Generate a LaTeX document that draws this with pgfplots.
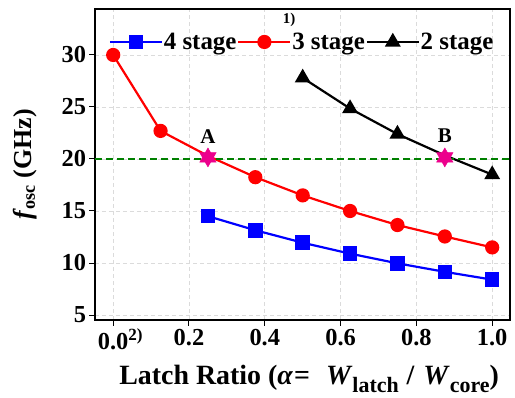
\documentclass[border=0pt]{standalone}
\usepackage{fontspec}
\setmainfont{Liberation Serif}
\usepackage{pgfplots}
\pgfplotsset{compat=1.18}
\usetikzlibrary{calc}
\definecolor{mygreen}{RGB}{0,128,0}
\newcommand{\sub}[1]{\raisebox{-0.3em}{\fontsize{22}{22}\selectfont #1}}
\begin{document}
\begin{tikzpicture}
\begin{axis}[
  name=ax,
  scale only axis,
  width=415bp, height=311bp,
  xmin=-0.048, xmax=1.047,
  ymin=4.52, ymax=34.42,
  xtick={0,0.2,0.4,0.6,0.8,1.0},
  xticklabels={0.0\rlap{\textsuperscript{2)}},0.2,0.4,0.6,0.8,1.0},
  ytick={5,10,15,20,25,30},
  yticklabels={5,10,15,20,25,30},
  xtick pos=bottom, ytick pos=left,
  tick align=outside,
  major tick length=5.5bp,
  every tick/.style={black, line width=1pt},
  axis line style={line width=2.3pt},
  grid=major,
  major grid style={dash pattern=on 4bp off 3bp, gray!28, line width=0.9pt},
  tick label style={font=\fontsize{24.5}{28}\selectfont\bfseries},
  xlabel={Latch Ratio (\textit{α}\hspace{1bp}=\hspace{16bp}\textit{W}\sub{latch}\hspace{8bp}/\hspace{9bp}\textit{W}\sub{core})},
  ylabel={\textit{f}\textsubscript{osc} (GHz)},
  label style={font=\fontsize{28}{30}\selectfont\bfseries},
  xlabel style={at={(axis description cs:0.516,-0.19)}, anchor=center},
  ylabel style={font=\fontsize{26}{30}\selectfont\bfseries, at={(axis description cs:-0.169,0.50)}, anchor=center},
  legend style={draw=none, fill=none, at={(0.4976,0.894)}, anchor=center,
    font=\fontsize{25}{28}\selectfont\bfseries, legend columns=3,
    /tikz/every even column/.append style={column sep=0bp},
    nodes={inner sep=0.8bp},
    inner sep=0pt},
  legend cell align=left,
  legend image code/.code={\draw[mark=none] (0bp,0bp) -- (52bp,0bp); \draw[only marks] plot coordinates {(26bp,0bp)};},
]
\addplot[blue, line width=2.2pt, mark=square*, mark size=6.2bp, mark options={solid}]
  coordinates {(0.25,14.5)(0.375,13.15)(0.5,11.95)(0.625,10.9)(0.75,9.97)(0.875,9.15)(1.0,8.4)};
\addlegendentry{4 stage}
\addplot[red, line width=2.2pt, mark=*, mark size=6bp, mark indices={1,2,4,5,6,7,8,9}]
  coordinates {(0,30)(0.125,22.7)(0.25,20.3)(0.375,18.25)(0.5,16.5)(0.625,15.0)(0.75,13.65)(0.875,12.55)(1.0,11.5)};
\addlegendentry{3 stage}
\addplot[black, line width=2.2pt, mark=triangle*, mark size=7bp, mark indices={1,2,3,5}]
  coordinates {(0.5,27.8)(0.625,24.85)(0.75,22.4)(0.875,20.35)(1.0,18.5)};
\addlegendentry{2 stage}
\addplot[mygreen, dash pattern=on 7bp off 4bp, line width=1.8pt, forget plot] coordinates {(-0.048,20)(1.047,20)};
\addplot[only marks, magenta, mark=triangle*, mark size=9.5bp, forget plot] coordinates {(0.25,20.15)(0.875,20.15)};
\addplot[only marks, magenta, mark=triangle*, mark size=9.5bp, mark options={rotate=180}, forget plot] coordinates {(0.25,20.15)(0.875,20.15)};
\node[font=\fontsize{21}{24}\selectfont\bfseries] at (axis cs:0.25,22.2) {A};
\node[font=\fontsize{21}{24}\selectfont\bfseries] at (axis cs:0.875,22.2) {B};
\node[font=\fontsize{15}{17}\selectfont\bfseries] at (axis cs:0.464,33.4) {1)};
\end{axis}
\pgfresetboundingbox
\path ($(ax.south west)+(-95bp,-78bp)$) rectangle ($(ax.north east)+(5bp,9bp)$);
\end{tikzpicture}
\end{document}
